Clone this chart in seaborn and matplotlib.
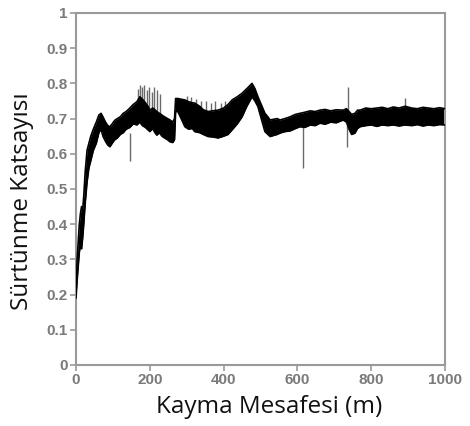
import matplotlib
matplotlib.use("Agg")
import matplotlib.pyplot as plt
import seaborn as sns
import pandas as pd

# Friction-coefficient band (lower / upper envelope)
distance = [0, 3, 6, 9, 12, 15, 18, 21, 25, 30, 35, 40, 47, 55, 62, 68, 73, 80, 86, 92, 98,
            105, 112, 120, 128, 136, 146, 155, 165, 173, 180, 188, 195, 200, 208, 214, 219,
            226, 233, 240, 248, 255, 262, 267, 270, 276, 285, 295, 305, 315, 322, 335, 345,
            358, 370, 385, 400, 412, 423, 437, 450, 463, 477, 485, 493, 502, 512, 520, 526,
            535, 545, 553, 566, 580, 595, 607, 620, 635, 648, 661, 675, 690, 705, 724, 733,
            740, 747, 756, 763, 770, 785, 800, 815, 830, 845, 860, 875, 892, 910, 925, 940,
            955, 970, 985, 1000]
mu_low = [0.19, 0.24, 0.28, 0.32, 0.34, 0.33, 0.36, 0.40, 0.46, 0.52, 0.56, 0.58, 0.61, 0.63,
          0.66, 0.67, 0.65, 0.635, 0.625, 0.62, 0.63, 0.64, 0.645, 0.655, 0.66, 0.67, 0.675,
          0.685, 0.682, 0.69, 0.68, 0.675, 0.668, 0.663, 0.672, 0.66, 0.653, 0.66, 0.65, 0.645,
          0.64, 0.634, 0.632, 0.64, 0.72, 0.72, 0.70, 0.677, 0.67, 0.672, 0.663, 0.66, 0.655,
          0.649, 0.648, 0.645, 0.65, 0.655, 0.668, 0.685, 0.705, 0.735, 0.762, 0.75, 0.734,
          0.70, 0.663, 0.655, 0.649, 0.652, 0.655, 0.659, 0.663, 0.665, 0.672, 0.677, 0.675,
          0.682, 0.68, 0.687, 0.684, 0.69, 0.688, 0.696, 0.69, 0.67, 0.655, 0.659, 0.672,
          0.677, 0.68, 0.682, 0.678, 0.682, 0.68, 0.682, 0.679, 0.682, 0.68, 0.683, 0.679,
          0.682, 0.68, 0.683, 0.682]
mu_high = [0.21, 0.30, 0.35, 0.40, 0.43, 0.45, 0.44, 0.48, 0.55, 0.61, 0.63, 0.65, 0.67, 0.69,
           0.71, 0.715, 0.705, 0.69, 0.68, 0.677, 0.685, 0.695, 0.70, 0.705, 0.715, 0.72, 0.73,
           0.74, 0.748, 0.762, 0.755, 0.745, 0.735, 0.724, 0.73, 0.725, 0.72, 0.715, 0.71,
           0.705, 0.70, 0.696, 0.69, 0.70, 0.757, 0.757, 0.755, 0.753, 0.748, 0.745, 0.744,
           0.735, 0.725, 0.72, 0.722, 0.724, 0.73, 0.74, 0.753, 0.762, 0.772, 0.785, 0.80,
           0.785, 0.762, 0.74, 0.715, 0.705, 0.696, 0.698, 0.70, 0.696, 0.70, 0.705, 0.712,
           0.715, 0.718, 0.722, 0.72, 0.724, 0.726, 0.722, 0.725, 0.724, 0.728, 0.72, 0.712,
           0.715, 0.724, 0.724, 0.73, 0.728, 0.73, 0.732, 0.728, 0.733, 0.73, 0.735, 0.73,
           0.728, 0.732, 0.73, 0.728, 0.731, 0.728]

# Isolated spikes / streaks: (distance, start value, end value)
spike_x = [146, 168, 173, 178, 185, 192, 198, 205, 212, 219, 228,
           300, 312, 325, 338, 352, 365, 378, 392, 405,
           615, 734, 737, 892]
spike_from = [0.66, 0.74, 0.75, 0.75, 0.74, 0.73, 0.72, 0.72, 0.72, 0.71, 0.70,
              0.74, 0.74, 0.73, 0.72, 0.71, 0.71, 0.71, 0.71, 0.72,
              0.68, 0.69, 0.71, 0.725]
spike_to = [0.58, 0.785, 0.795, 0.79, 0.795, 0.78, 0.79, 0.775, 0.79, 0.78, 0.77,
            0.765, 0.76, 0.755, 0.75, 0.75, 0.745, 0.75, 0.745, 0.75,
            0.56, 0.62, 0.79, 0.758]

x_ticks = [0, 200, 400, 600, 800, 1000]
y_ticks = [0, 0.1, 0.2, 0.3, 0.4, 0.5, 0.6, 0.7, 0.8, 0.9, 1]
y_tick_labels = ["0", "0.1", "0.2", "0.3", "0.4", "0.5", "0.6", "0.7", "0.8", "0.9", "1"]
x_label = "Kayma Mesafesi (m)"
y_label = "Sürtünme Katsayısı"

sns.set_theme(style="white")
plt.rcParams["font.family"] = ["Liberation Sans", "DejaVu Sans"]

df = pd.DataFrame({"x": distance, "low": mu_low, "high": mu_high})

fig = plt.figure(figsize=(4.70, 4.26), dpi=100)
ax = fig.add_axes([76 / 470, 61 / 426, 369 / 470, 352 / 426])

ax.vlines(spike_x, spike_from, spike_to, color="#6a6a6a", lw=1.0, zorder=1)
ax.fill_between(df["x"], df["low"], df["high"], color="black", lw=0, zorder=2)
sns.lineplot(data=df, x="x", y="low", ax=ax, color="black", lw=1.2, zorder=3)
sns.lineplot(data=df, x="x", y="high", ax=ax, color="black", lw=1.2, zorder=3)

ax.set_xlim(0, 1000)
ax.set_ylim(0, 1)
ax.set_xticks(x_ticks)
ax.set_yticks(y_ticks)
ax.set_yticklabels(y_tick_labels)
for lab in ax.get_xticklabels() + ax.get_yticklabels():
    lab.set_fontweight("bold")
    lab.set_color("#7a7a7a")
    lab.set_fontsize(11)
ax.tick_params(axis="both", direction="out", length=4, width=1.2, color="#999999", pad=2,
               left=True, bottom=True)
for sp in ax.spines.values():
    sp.set_color("#999999")
    sp.set_linewidth(1.5)

ax.set_xlabel(x_label, fontsize=17.5, family=["Open Sans", "DejaVu Sans"], color="#111111")
ax.set_ylabel(y_label, fontsize=17.5, family=["Open Sans", "DejaVu Sans"], color="#111111")
ax.xaxis.set_label_coords(0.523, -0.085)
ax.yaxis.set_label_coords(-0.115, 0.466)

fig.savefig("out.png", dpi=100)
